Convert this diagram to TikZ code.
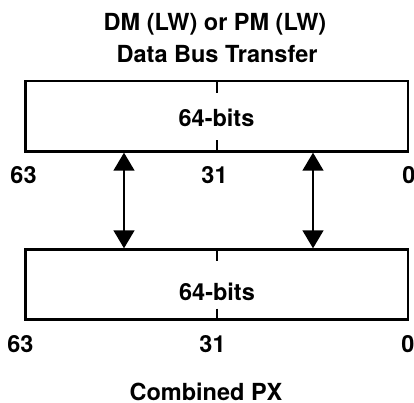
\documentclass[tikz,border=0pt]{standalone}
\usepackage{fontspec}
\setmainfont{TeX Gyre Heros}
\usetikzlibrary{arrows.meta}
\begin{document}
\begin{tikzpicture}[x=1pt,y=-1pt,
  lbl/.style={font=\fontsize{23.5}{28}\selectfont\bfseries, inner sep=0pt, anchor=base},
  bitbox/.style={draw, line width=2.4pt, rectangle, minimum width=382.7pt, minimum height=70.2pt, inner sep=0pt},
  tickline/.style={line width=1.4pt},
  xfer/.style={line width=1.4pt, {Triangle[width=21pt,length=18pt]}-{Triangle[width=21pt,length=18pt]}}]
\useasboundingbox (0,0) rectangle (414,403);
\node[lbl] (t1) at (215,31) {DM (LW) or PM (LW)};
\node[lbl] (t2) at (217,63) {Data Bus Transfer};
\node[bitbox] (boxa) at (216.65,116.4) {};
\node[bitbox] (boxb) at (216.65,284.5) {};
\node[lbl] (wa) at (216.5,127) {64-bits};
\node[lbl] (wb) at (217,300) {64-bits};
\draw[tickline] (217,81.3) -- (217,93);
\draw[tickline] (217,140.5) -- (217,151.5);
\draw[tickline] (217,249.5) -- (217,261);
\draw[tickline] (217,308.5) -- (217,319.5);
\node[lbl] (a63) at (23.5,183) {63};
\node[lbl] (a31) at (214.5,183) {31};
\node[lbl] (a0) at (409,183) {0};
\node[lbl] (b63) at (20.5,352) {63};
\node[lbl] (b31) at (212.5,352) {31};
\node[lbl] (b0) at (408,352) {0};
\node[lbl] (cpx) at (206,400.5) {Combined PX};
\coordinate (u1) at (124,152.7);
\coordinate (d1) at (124,248.3);
\coordinate (u2) at (313,152.7);
\coordinate (d2) at (313,248.3);
\draw[xfer] (d1) -- (u1);
\draw[xfer] (d2) -- (u2);
\end{tikzpicture}
\end{document}
